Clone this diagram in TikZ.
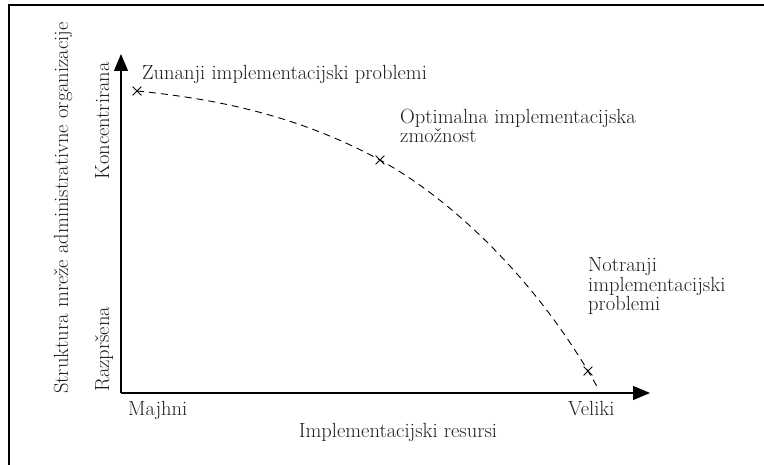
\documentclass[tikz,border=0pt]{standalone}
\usetikzlibrary{arrows.meta,shapes.misc}
\begin{document}
\begin{tikzpicture}[x=1pt,y=-1pt,
  lbl/.style={font=\fontsize{20.5}{19.8}\selectfont, text=black!88, inner sep=0pt},
  axis/.style={line width=1.2pt, -{Triangle[length=17pt,width=14pt]}},
  xmark/.style={cross out, draw, line width=0.8pt, minimum size=8pt, inner sep=0pt},
  curve/.style={dash pattern=on 7pt off 5pt, line width=0.9pt}]
\useasboundingbox (0,0) rectangle (764,465);
\draw[line width=1.3pt] (9,465) -- (9,5) -- (764,5);
% axes
\coordinate (o) at (121,393);
\coordinate (ytip) at (121,54);
\coordinate (xtip) at (650,393);
\draw[axis] (o) -- (ytip);
\draw[axis] (o) -- (xtip);
% markers
\node[xmark] (m1) at (137,91) {};
\node[xmark] (m2) at (380,160) {};
\node[xmark] (m3) at (588,371) {};
\coordinate (cend) at (599,390);
\draw[curve] (m1.center) .. controls (218,99) and (299,116) .. (m2.center)
  .. controls (453,200) and (539,282) .. (cend);
% labels
\node[lbl, anchor=base west] (zun) at (142,80) {Zunanji implementacijski problemi};
\node[lbl, anchor=base west, align=left] (opt) at (400,143) {Optimalna implementacijska\\zmožnost};
\node[lbl, anchor=base west, align=left] (notr) at (588,311) {Notranji\\implementacijski\\problemi};
\node[lbl, anchor=base west] (maj) at (128,415) {Majhni};
\node[lbl, anchor=base west] (vel) at (568,415) {Veliki};
\node[lbl, anchor=base] (xl) at (398,438) {Implementacijski resursi};
\node[lbl, rotate=90, anchor=base west] (raz) at (109,392) {Razpršena};
\node[lbl, rotate=90, anchor=base east] (kon) at (109,62) {Koncentrirana};
\node[lbl, rotate=90, anchor=base] (yl) at (68,208) {Struktura mreže administrativne organizacije};
\end{tikzpicture}
\end{document}
